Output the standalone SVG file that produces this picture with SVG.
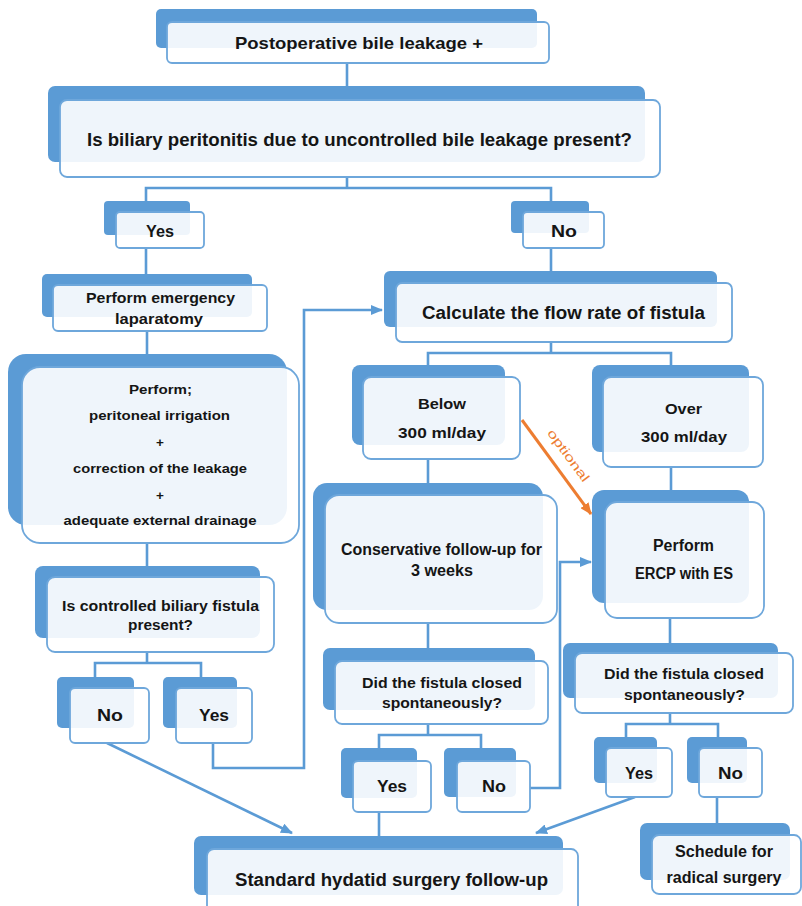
<svg xmlns="http://www.w3.org/2000/svg" width="802" height="906" viewBox="0 0 802 906">
<defs>
<style>
.bk{fill:#5B9BD5;}
.fr{fill:#ffffff;fill-opacity:0.9;stroke:#6EA7DB;stroke-width:1.8;}
.t{font-family:"Liberation Sans",Arial,sans-serif;font-weight:bold;fill:#151515;text-anchor:middle;}
.c{fill:none;stroke:#5B9BD5;stroke-width:2.6;}
.o{fill:none;stroke:#ED7D31;stroke-width:3;}
</style>
<marker id="ab" markerUnits="userSpaceOnUse" markerWidth="12" markerHeight="10" refX="11" refY="5" orient="auto"><path d="M0,0 L12,5 L0,10 z" fill="#5B9BD5"/></marker>
<marker id="ao" markerUnits="userSpaceOnUse" markerWidth="12" markerHeight="10" refX="11" refY="5" orient="auto"><path d="M0,0 L12,5 L0,10 z" fill="#ED7D31"/></marker>
</defs>
<rect width="802" height="906" fill="#ffffff"/>
<g id="connectors">
<path class="c" d="M347,63 V100"/>
<path class="c" d="M347,177 V188 M146,201 V188 H551 V201"/>
<path class="c" d="M146,248 V274"/>
<path class="c" d="M551,248 V271"/>
<path class="c" d="M147,331 V354"/>
<path class="c" d="M147,543 V566"/>
<path class="c" d="M147,652 V663 M95,677 V663 H201 V677"/>
<path class="c" d="M213,743 V768 H304 V310 H382" marker-end="url(#ab)"/>
<path class="c" d="M107,743 L292,833" marker-end="url(#ab)"/>
<path class="c" d="M551,342 V353 M428,365 V353 H671 V365"/>
<path class="c" d="M428,459 V483"/>
<path class="c" d="M671,467 V490"/>
<path class="o" d="M522,420 L591,514" marker-end="url(#ao)"/>
<text x="565" y="458" transform="rotate(53.7 565 458)" font-family="Liberation Sans,Arial,sans-serif" font-size="12.5" fill="#ED7D31" text-anchor="middle" textLength="62" lengthAdjust="spacingAndGlyphs">optional</text>
<path class="c" d="M428,623 V648"/>
<path class="c" d="M428,724 V735 M379,748 V735 H481 V748"/>
<path class="c" d="M379,812 V836"/>
<path class="c" d="M530,788 H560 V562 H591" marker-end="url(#ab)"/>
<path class="c" d="M670,618 V643"/>
<path class="c" d="M670,713 V724 M626,737 V724 H718 V737"/>
<path class="c" d="M635,797 L536,833" marker-end="url(#ab)"/>
<path class="c" d="M717,797 V823"/>
</g>
<g id="n1">
<rect class="bk" x="156" y="9" width="381" height="39" rx="5"/>
<rect class="fr" x="167" y="22" width="382" height="41" rx="5"/>
<text class="t" x="359" y="49" font-size="17" textLength="248" lengthAdjust="spacingAndGlyphs">Postoperative bile leakage +</text>
</g>
<g id="n2">
<rect class="bk" x="48" y="86" width="597" height="76" rx="7"/>
<rect class="fr" x="60" y="100" width="600" height="77" rx="7"/>
<text class="t" x="359.5" y="145.5" font-size="18" textLength="545" lengthAdjust="spacingAndGlyphs">Is biliary peritonitis due to uncontrolled bile leakage present?</text>
</g>
<g id="yes1">
<rect class="bk" x="104" y="201" width="86" height="34" rx="4"/>
<rect class="fr" x="116" y="212" width="88" height="36" rx="4"/>
<text class="t" x="160" y="237" font-size="17" textLength="28" lengthAdjust="spacingAndGlyphs">Yes</text>
</g>
<g id="no1">
<rect class="bk" x="511" y="201" width="78" height="32" rx="4"/>
<rect class="fr" x="523" y="212" width="81" height="36" rx="4"/>
<text class="t" x="564" y="237" font-size="17" textLength="26" lengthAdjust="spacingAndGlyphs">No</text>
</g>
<g id="emerg">
<rect class="bk" x="42" y="274" width="210" height="43" rx="5"/>
<rect class="fr" x="53" y="285" width="214" height="46" rx="5"/>
<text class="t" x="160.5" y="303" font-size="15" textLength="149" lengthAdjust="spacingAndGlyphs">Perform emergency</text>
<text class="t" x="159" y="323.5" font-size="15" textLength="88" lengthAdjust="spacingAndGlyphs">laparatomy</text>
</g>
<g id="calc">
<rect class="bk" x="384" y="271" width="333" height="56" rx="6"/>
<rect class="fr" x="396" y="283" width="336" height="59" rx="6"/>
<text class="t" x="563.5" y="318.5" font-size="18" textLength="283" lengthAdjust="spacingAndGlyphs">Calculate the flow rate of fistula</text>
</g>
<g id="perf">
<rect class="bk" x="8" y="354" width="279" height="171" rx="18"/>
<rect class="fr" x="22" y="367" width="277" height="176" rx="18"/>
<text class="t" x="160.5" y="394" font-size="13.5" textLength="63" lengthAdjust="spacingAndGlyphs">Perform;</text>
<text class="t" x="159.5" y="420" font-size="13.5" textLength="141" lengthAdjust="spacingAndGlyphs">peritoneal irrigation</text>
<text class="t" x="160" y="446.5" font-size="13.5">+</text>
<text class="t" x="160" y="473" font-size="13.5" textLength="174" lengthAdjust="spacingAndGlyphs">correction of the leakage</text>
<text class="t" x="160" y="499.5" font-size="13.5">+</text>
<text class="t" x="160" y="525" font-size="13.5" textLength="193" lengthAdjust="spacingAndGlyphs">adequate external drainage</text>
</g>
<g id="below">
<rect class="bk" x="352" y="365" width="153" height="80" rx="8"/>
<rect class="fr" x="363" y="377" width="157" height="82" rx="8"/>
<text class="t" x="442" y="408.5" font-size="15" textLength="48" lengthAdjust="spacingAndGlyphs">Below</text>
<text class="t" x="442" y="437.5" font-size="15" textLength="88" lengthAdjust="spacingAndGlyphs">300 ml/day</text>
</g>
<g id="over">
<rect class="bk" x="592" y="365" width="157" height="87" rx="8"/>
<rect class="fr" x="603" y="377" width="160" height="90" rx="8"/>
<text class="t" x="683.5" y="413.5" font-size="15" textLength="37" lengthAdjust="spacingAndGlyphs">Over</text>
<text class="t" x="684" y="441.5" font-size="15" textLength="86" lengthAdjust="spacingAndGlyphs">300 ml/day</text>
</g>
<g id="cons">
<rect class="bk" x="313" y="483" width="230" height="127" rx="14"/>
<rect class="fr" x="325" y="495" width="232" height="128" rx="14"/>
<text class="t" x="441.5" y="554.5" font-size="16" textLength="201" lengthAdjust="spacingAndGlyphs">Conservative follow-up for</text>
<text class="t" x="442" y="575.5" font-size="16" textLength="62" lengthAdjust="spacingAndGlyphs">3 weeks</text>
</g>
<g id="ercp">
<rect class="bk" x="592" y="490" width="157" height="113" rx="12"/>
<rect class="fr" x="605" y="502" width="159" height="116" rx="12"/>
<text class="t" x="683.5" y="550.5" font-size="16" textLength="61" lengthAdjust="spacingAndGlyphs">Perform</text>
<text class="t" x="684" y="578.5" font-size="16" textLength="98" lengthAdjust="spacingAndGlyphs">ERCP with ES</text>
</g>
<g id="isctrl">
<rect class="bk" x="35" y="566" width="225" height="72" rx="8"/>
<rect class="fr" x="47" y="577" width="227" height="75" rx="8"/>
<text class="t" x="160.5" y="610.5" font-size="15" textLength="197" lengthAdjust="spacingAndGlyphs">Is controlled biliary fistula</text>
<text class="t" x="160.5" y="629.5" font-size="15" textLength="65" lengthAdjust="spacingAndGlyphs">present?</text>
</g>
<g id="no2">
<rect class="bk" x="57" y="677" width="77" height="51" rx="5"/>
<rect class="fr" x="70" y="688" width="79" height="55" rx="5"/>
<text class="t" x="110" y="721" font-size="17" textLength="26" lengthAdjust="spacingAndGlyphs">No</text>
</g>
<g id="yes2">
<rect class="bk" x="163" y="677" width="74" height="51" rx="5"/>
<rect class="fr" x="176" y="688" width="76" height="55" rx="5"/>
<text class="t" x="214" y="721" font-size="17" textLength="30" lengthAdjust="spacingAndGlyphs">Yes</text>
</g>
<g id="did1">
<rect class="bk" x="323" y="648" width="212" height="62" rx="7"/>
<rect class="fr" x="335" y="661" width="213" height="63" rx="7"/>
<text class="t" x="442" y="687.5" font-size="15" textLength="160" lengthAdjust="spacingAndGlyphs">Did the fistula closed</text>
<text class="t" x="442" y="707.5" font-size="15" textLength="120" lengthAdjust="spacingAndGlyphs">spontaneously?</text>
</g>
<g id="did2">
<rect class="bk" x="563" y="643" width="215" height="55" rx="7"/>
<rect class="fr" x="575" y="653" width="218" height="60" rx="7"/>
<text class="t" x="684" y="678.5" font-size="15" textLength="160" lengthAdjust="spacingAndGlyphs">Did the fistula closed</text>
<text class="t" x="684.5" y="699.5" font-size="15" textLength="121" lengthAdjust="spacingAndGlyphs">spontaneously?</text>
</g>
<g id="yes3">
<rect class="bk" x="341" y="748" width="76" height="50" rx="5"/>
<rect class="fr" x="353" y="761" width="78" height="51" rx="5"/>
<text class="t" x="392" y="792" font-size="17" textLength="30" lengthAdjust="spacingAndGlyphs">Yes</text>
</g>
<g id="no3">
<rect class="bk" x="444" y="748" width="72" height="49" rx="5"/>
<rect class="fr" x="457" y="761" width="73" height="51" rx="5"/>
<text class="t" x="494" y="792" font-size="17" textLength="24" lengthAdjust="spacingAndGlyphs">No</text>
</g>
<g id="yes4">
<rect class="bk" x="594" y="737" width="63" height="46" rx="5"/>
<rect class="fr" x="606" y="748" width="66" height="49" rx="5"/>
<text class="t" x="639" y="779" font-size="17" textLength="28" lengthAdjust="spacingAndGlyphs">Yes</text>
</g>
<g id="no4">
<rect class="bk" x="687" y="737" width="60" height="46" rx="5"/>
<rect class="fr" x="699" y="748" width="63" height="49" rx="5"/>
<text class="t" x="730.5" y="779" font-size="17" textLength="25" lengthAdjust="spacingAndGlyphs">No</text>
</g>
<g id="std">
<rect class="bk" x="194" y="836" width="369" height="59" rx="7"/>
<rect class="fr" x="207" y="849" width="371" height="66" rx="7"/>
<text class="t" x="391.5" y="885.5" font-size="18" textLength="313" lengthAdjust="spacingAndGlyphs">Standard hydatid surgery follow-up</text>
</g>
<g id="sched">
<rect class="bk" x="640" y="823" width="150" height="57" rx="7"/>
<rect class="fr" x="652" y="835" width="149" height="59" rx="7"/>
<text class="t" x="724" y="857" font-size="17" textLength="98" lengthAdjust="spacingAndGlyphs">Schedule for</text>
<text class="t" x="724" y="883" font-size="17" textLength="115" lengthAdjust="spacingAndGlyphs">radical surgery</text>
</g>
</svg>
